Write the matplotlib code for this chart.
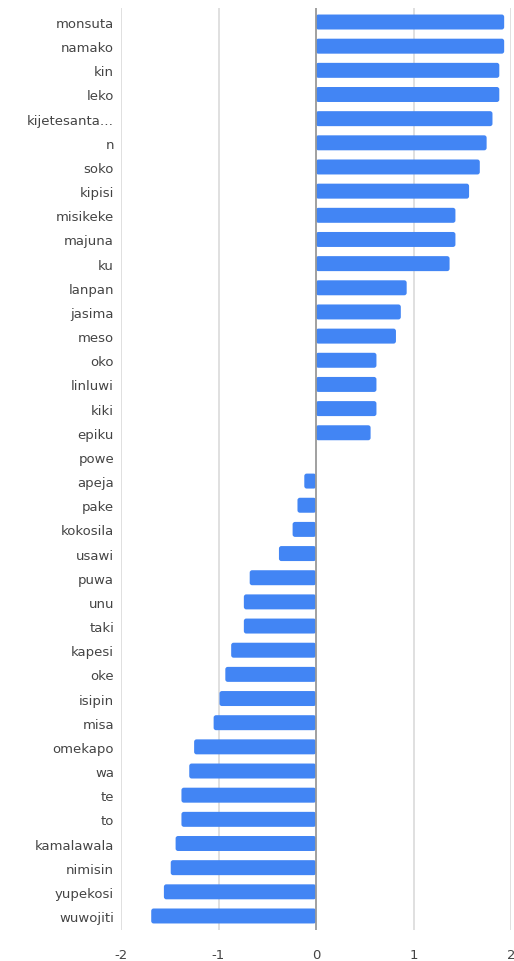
import matplotlib
matplotlib.use("Agg")
import matplotlib.pyplot as plt
from matplotlib.patches import FancyBboxPatch

labels = ["monsuta", "namako", "kin", "leko", "kijetesanta\u2026", "n", "soko",
          "kipisi", "misikeke", "majuna", "ku", "lanpan", "jasima", "meso",
          "oko", "linluwi", "kiki", "epiku", "powe", "apeja", "pake",
          "kokosila", "usawi", "puwa", "unu", "taki", "kapesi", "oke",
          "isipin", "misa", "omekapo", "wa", "te", "to", "kamalawala",
          "nimisin", "yupekosi", "wuwojiti"]
values = [1.93, 1.93, 1.88, 1.88, 1.81, 1.75, 1.68, 1.57, 1.43, 1.43, 1.37,
          0.93, 0.87, 0.82, 0.62, 0.62, 0.62, 0.56, 0.0, -0.12, -0.19, -0.24,
          -0.38, -0.68, -0.74, -0.74, -0.87, -0.93, -0.99, -1.05, -1.25,
          -1.30, -1.38, -1.38, -1.44, -1.49, -1.56, -1.69]
xticks = [-2, -1, 0, 1, 2]

plt.rcParams['font.family'] = ['DejaVu Sans']

fig = plt.figure(figsize=(5.14, 9.62), dpi=100)
ax = fig.add_axes([121 / 514, 1 - 931 / 962, 390 / 514, 922 / 962])

ypos = list(range(len(labels)))
bars = ax.barh(ypos, values, height=0.62, color='#4285f4', zorder=3)

# swap the square bars for slightly rounded ones
for b in bars:
    b.set_visible(False)
    if b.get_width() == 0:
        continue
    x0 = min(b.get_x(), b.get_x() + b.get_width())
    w = abs(b.get_width())
    p = FancyBboxPatch((x0, b.get_y()), w, b.get_height(),
                       boxstyle="round,pad=0,rounding_size=0.025",
                       mutation_aspect=4.0, fc='#4285f4', ec='none',
                       zorder=3)
    ax.add_patch(p)

ax.set_xlim(-2, 2)
ax.set_ylim(len(labels) - 0.42, -0.58)
ax.set_yticks(ypos)
ax.set_yticklabels(labels, fontsize=9.5, color='#444444')
ax.set_xticks(xticks)
ax.set_xticklabels([str(t) for t in xticks], fontsize=9.5, color='#444444')
ax.tick_params(axis='both', length=0)
ax.tick_params(axis='y', pad=5)
ax.tick_params(axis='x', pad=13)

for t in xticks:
    if t == 0:
        continue
    ax.axvline(t, color='#dddddd', lw=1.3, zorder=1)
ax.axvline(0, color='#999999', lw=1.3, zorder=4)

for s in ax.spines.values():
    s.set_visible(False)

fig.savefig('out.png', dpi=100)
